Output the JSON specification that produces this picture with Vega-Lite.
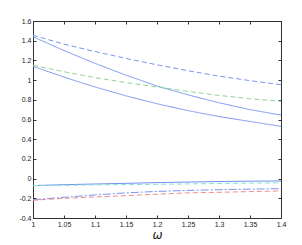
{
  "$schema": "https://vega.github.io/schema/vega-lite/v6.json",
  "width": 248,
  "height": 197,
  "autosize": {"type": "none"},
  "padding": {"left": 33, "top": 21, "right": 21, "bottom": 27},
  "background": "white",
  "config": {
    "view": {"stroke": "#333333", "strokeWidth": 1},
    "axis": {"labelFont": "Liberation Sans", "labelFontSize": 7, "labelColor": "#222222", "tickColor": "#333333", "domainColor": "#333333", "grid": false, "tickSize": -3, "labelOverlap": false, "labelFlush": false, "labelBound": false}
  },
  "data": {"values": [
    {"s": "A", "w": 1.0, "v": 1.455}, {"s": "A", "w": 1.05, "v": 1.365}, {"s": "A", "w": 1.1, "v": 1.29}, {"s": "A", "w": 1.15, "v": 1.22}, {"s": "A", "w": 1.2, "v": 1.155}, {"s": "A", "w": 1.25, "v": 1.095}, {"s": "A", "w": 1.3, "v": 1.04}, {"s": "A", "w": 1.35, "v": 0.995}, {"s": "A", "w": 1.4, "v": 0.953},
    {"s": "B", "w": 1.0, "v": 1.44}, {"s": "B", "w": 1.05, "v": 1.30}, {"s": "B", "w": 1.1, "v": 1.17}, {"s": "B", "w": 1.15, "v": 1.05}, {"s": "B", "w": 1.2, "v": 0.94}, {"s": "B", "w": 1.25, "v": 0.85}, {"s": "B", "w": 1.3, "v": 0.77}, {"s": "B", "w": 1.35, "v": 0.70}, {"s": "B", "w": 1.4, "v": 0.645},
    {"s": "C", "w": 1.0, "v": 1.15}, {"s": "C", "w": 1.05, "v": 1.085}, {"s": "C", "w": 1.1, "v": 1.025}, {"s": "C", "w": 1.15, "v": 0.975}, {"s": "C", "w": 1.2, "v": 0.93}, {"s": "C", "w": 1.25, "v": 0.885}, {"s": "C", "w": 1.3, "v": 0.845}, {"s": "C", "w": 1.35, "v": 0.81}, {"s": "C", "w": 1.4, "v": 0.785},
    {"s": "D", "w": 1.0, "v": 1.14}, {"s": "D", "w": 1.05, "v": 1.03}, {"s": "D", "w": 1.1, "v": 0.93}, {"s": "D", "w": 1.15, "v": 0.84}, {"s": "D", "w": 1.2, "v": 0.76}, {"s": "D", "w": 1.25, "v": 0.69}, {"s": "D", "w": 1.3, "v": 0.63}, {"s": "D", "w": 1.35, "v": 0.58}, {"s": "D", "w": 1.4, "v": 0.53},
    {"s": "E", "w": 1.0, "v": -0.071}, {"s": "E", "w": 1.05, "v": -0.062}, {"s": "E", "w": 1.1, "v": -0.055}, {"s": "E", "w": 1.15, "v": -0.048}, {"s": "E", "w": 1.2, "v": -0.041}, {"s": "E", "w": 1.25, "v": -0.035}, {"s": "E", "w": 1.3, "v": -0.03}, {"s": "E", "w": 1.35, "v": -0.026}, {"s": "E", "w": 1.4, "v": -0.024},
    {"s": "F", "w": 1.0, "v": -0.071}, {"s": "F", "w": 1.05, "v": -0.068}, {"s": "F", "w": 1.1, "v": -0.064}, {"s": "F", "w": 1.15, "v": -0.061}, {"s": "F", "w": 1.2, "v": -0.058}, {"s": "F", "w": 1.25, "v": -0.054}, {"s": "F", "w": 1.3, "v": -0.05}, {"s": "F", "w": 1.35, "v": -0.046}, {"s": "F", "w": 1.4, "v": -0.043},
    {"s": "G", "w": 1.0, "v": -0.215}, {"s": "G", "w": 1.05, "v": -0.19}, {"s": "G", "w": 1.1, "v": -0.166}, {"s": "G", "w": 1.15, "v": -0.145}, {"s": "G", "w": 1.2, "v": -0.13}, {"s": "G", "w": 1.25, "v": -0.12}, {"s": "G", "w": 1.3, "v": -0.113}, {"s": "G", "w": 1.35, "v": -0.107}, {"s": "G", "w": 1.4, "v": -0.102},
    {"s": "H", "w": 1.0, "v": -0.22}, {"s": "H", "w": 1.05, "v": -0.2}, {"s": "H", "w": 1.1, "v": -0.186}, {"s": "H", "w": 1.15, "v": -0.173}, {"s": "H", "w": 1.2, "v": -0.158}, {"s": "H", "w": 1.25, "v": -0.145}, {"s": "H", "w": 1.3, "v": -0.139}, {"s": "H", "w": 1.35, "v": -0.132}, {"s": "H", "w": 1.4, "v": -0.125}
  ]},
  "layer": [
    {
      "mark": {"type": "line", "strokeWidth": 1, "clip": true},
      "encoding": {
        "x": {"field": "w", "type": "quantitative", "scale": {"domain": [1, 1.4], "nice": false, "zero": false},
          "axis": {"orient": "bottom", "values": [1, 1.05, 1.1, 1.15, 1.2, 1.25, 1.3, 1.35, 1.4], "labelExpr": "format(datum.value, '~g')", "labelPadding": 5, "title": "ω", "titleFont": "DejaVu Sans", "titleFontStyle": "italic", "titleFontWeight": "normal", "titleFontSize": 12, "titlePadding": 2, "titleColor": "#222222"}},
        "y": {"field": "v", "type": "quantitative", "scale": {"domain": [-0.4, 1.6], "nice": false, "zero": false},
          "axis": {"orient": "left", "values": [-0.4, -0.2, 0, 0.2, 0.4, 0.6, 0.8, 1, 1.2, 1.4, 1.6], "title": null, "labelExpr": "replace(format(datum.value, '~g'), '−', '-')", "labelPadding": 5}},
        "color": {"field": "s", "type": "nominal", "legend": null,
          "scale": {"domain": ["A", "B", "C", "D", "E", "F", "G", "H"], "range": ["#7b95f2", "#7b95f2", "#8fd49a", "#7b95f2", "#6f8cf0", "#86e3d6", "#7b95f2", "#f28a8a"]}},
        "strokeDash": {"field": "s", "type": "nominal", "legend": null,
          "scale": {"domain": ["A", "B", "C", "D", "E", "F", "G", "H"], "range": [[5, 3], [1, 0], [5, 3], [1, 0], [1, 0], [5, 3], [8, 2, 2, 2], [5, 3]]}}
      }
    },
    {
      "mark": {"type": "line", "opacity": 0},
      "encoding": {
        "x": {"field": "w", "type": "quantitative", "axis": {"orient": "top", "values": [1, 1.05, 1.1, 1.15, 1.2, 1.25, 1.3, 1.35, 1.4], "labels": false, "title": null}},
        "y": {"field": "v", "type": "quantitative", "axis": {"orient": "right", "values": [-0.4, -0.2, 0, 0.2, 0.4, 0.6, 0.8, 1, 1.2, 1.4, 1.6], "labels": false, "title": null}},
        "detail": {"field": "s"}
      }
    }
  ],
  "resolve": {"axis": {"x": "independent", "y": "independent"}}
}
